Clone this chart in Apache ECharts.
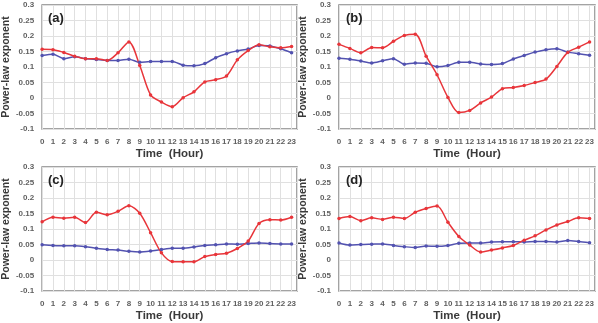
<!DOCTYPE html>
<html lang="en">
<head>
<meta charset="UTF-8">
<title>Power-law exponent</title>
<script src="https://cdn.jsdelivr.net/npm/echarts@6/dist/echarts.min.js"></script>
<style>
  html, body { margin: 0; padding: 0; background: #fff; }
  #main { width: 598px; height: 323px; }
</style>
</head>
<body>
<div id="main"></div>
<script type="text/javascript">
// hours on the x axis
var hours = [0, 1, 2, 3, 4, 5, 6, 7, 8, 9, 10, 11, 12, 13, 14, 15, 16, 17, 18, 19, 20, 21, 22, 23];
var panelNames = ['(a)', '(b)', '(c)', '(d)'];

// red series, one per panel
var redA = [0.157, 0.156, 0.147, 0.135, 0.127, 0.127, 0.121, 0.146, 0.181, 0.105, 0.010, -0.013, -0.028, 0.001, 0.020, 0.052, 0.059, 0.071, 0.123, 0.153, 0.172, 0.165, 0.162, 0.166];
var redB = [0.173, 0.160, 0.146, 0.163, 0.162, 0.183, 0.202, 0.206, 0.135, 0.075, 0.002, -0.047, -0.040, -0.016, 0.003, 0.030, 0.034, 0.040, 0.050, 0.061, 0.102, 0.147, 0.164, 0.181];
var redC = [0.123, 0.138, 0.135, 0.138, 0.121, 0.154, 0.146, 0.157, 0.175, 0.151, 0.088, 0.023, -0.005, -0.006, -0.006, 0.011, 0.018, 0.022, 0.037, 0.061, 0.118, 0.130, 0.129, 0.138];
var redD = [0.134, 0.140, 0.127, 0.136, 0.131, 0.138, 0.134, 0.154, 0.166, 0.174, 0.122, 0.076, 0.048, 0.026, 0.032, 0.039, 0.047, 0.064, 0.078, 0.097, 0.113, 0.124, 0.136, 0.134];

// blue series, one per panel
var blueA = [0.137, 0.141, 0.127, 0.133, 0.127, 0.124, 0.121, 0.121, 0.125, 0.115, 0.118, 0.118, 0.118, 0.106, 0.104, 0.111, 0.130, 0.143, 0.152, 0.158, 0.169, 0.168, 0.159, 0.146];
var blueB = [0.128, 0.125, 0.119, 0.113, 0.120, 0.127, 0.109, 0.113, 0.112, 0.101, 0.105, 0.115, 0.115, 0.110, 0.108, 0.111, 0.126, 0.137, 0.148, 0.156, 0.159, 0.148, 0.143, 0.138];
var blueC = [0.049, 0.047, 0.046, 0.046, 0.043, 0.038, 0.034, 0.032, 0.028, 0.026, 0.029, 0.034, 0.038, 0.038, 0.042, 0.047, 0.049, 0.052, 0.051, 0.053, 0.055, 0.053, 0.052, 0.052];
var blueD = [0.055, 0.048, 0.050, 0.051, 0.052, 0.047, 0.043, 0.040, 0.045, 0.044, 0.047, 0.054, 0.055, 0.055, 0.058, 0.059, 0.059, 0.058, 0.060, 0.060, 0.058, 0.063, 0.060, 0.056];

var reds = [redA, redB, redC, redD];
var blues = [blueA, blueB, blueC, blueD];

var RED = '#e8353a';
var BLUE = '#5252b0';
var tickColor = '#5f5f5f';
var titleColor = '#3a3a3a';

// grid boxes (left, top) for the 2x2 layout
var boxes = [[41, 5], [339, 5], [41, 167], [339, 167]];

var chart = echarts.init(document.getElementById('main'));

var grids = [], xAxes = [], yAxes = [], series = [], titles = [];

for (var i = 0; i < 4; i++) {
    grids.push({
        left: boxes[i][0], top: boxes[i][1], width: 256, height: 124,
        show: true, borderColor: '#858585', borderWidth: 1.5, backgroundColor: '#fff'
    });
    xAxes.push({
        gridIndex: i, type: 'value', min: 0, max: 23.5, interval: 1,
        name: 'Time  (Hour)', nameLocation: 'middle', nameGap: 19,
        nameTextStyle: { fontSize: 11.5, fontWeight: 'bold', color: titleColor, fontFamily: 'Liberation Sans' },
        axisLine: { show: false }, axisTick: { show: false },
        axisLabel: {
            margin: 9, fontSize: 8, fontWeight: 'bold', color: tickColor, fontFamily: 'Liberation Sans',
            formatter: function (v) { return hours.indexOf(v) >= 0 ? String(v) : ''; }
        },
        splitLine: { show: true, lineStyle: { color: '#e0e0e0', width: 1 } }
    });
    yAxes.push({
        gridIndex: i, type: 'value', min: -0.1, max: 0.3, interval: 0.05,
        name: 'Power-law exponent', nameLocation: 'middle', nameGap: 27,
        nameTextStyle: { fontSize: 10.5, fontWeight: 'bold', color: titleColor, fontFamily: 'Liberation Sans' },
        axisLine: { show: false }, axisTick: { show: false },
        axisLabel: { margin: 8, fontSize: 8, fontWeight: 'bold', color: tickColor, fontFamily: 'Liberation Sans' },
        splitLine: { show: true, lineStyle: { color: '#e0e0e0', width: 1 } }
    });
    titles.push({
        text: panelNames[i], left: boxes[i][0] + 2, top: boxes[i][1] + 2,
        textStyle: { fontSize: 13, fontWeight: 'bold', color: '#222', fontFamily: 'Liberation Sans' }
    });
    series.push({
        type: 'line', xAxisIndex: i, yAxisIndex: i, smooth: 0.25,
        data: hours.map(function (h, k) { return [h, blues[i][k]]; }),
        symbol: 'circle', symbolSize: 3.5,
        lineStyle: { color: BLUE, width: 1.5 }, itemStyle: { color: BLUE }
    });
    series.push({
        type: 'line', xAxisIndex: i, yAxisIndex: i, smooth: 0.3,
        data: hours.map(function (h, k) { return [h, reds[i][k]]; }),
        symbol: 'circle', symbolSize: 3.5,
        lineStyle: { color: RED, width: 1.5 }, itemStyle: { color: RED }
    });
}

chart.setOption({
    animation: false,
    title: titles,
    grid: grids,
    xAxis: xAxes,
    yAxis: yAxes,
    series: series
});
</script>
</body>
</html>
